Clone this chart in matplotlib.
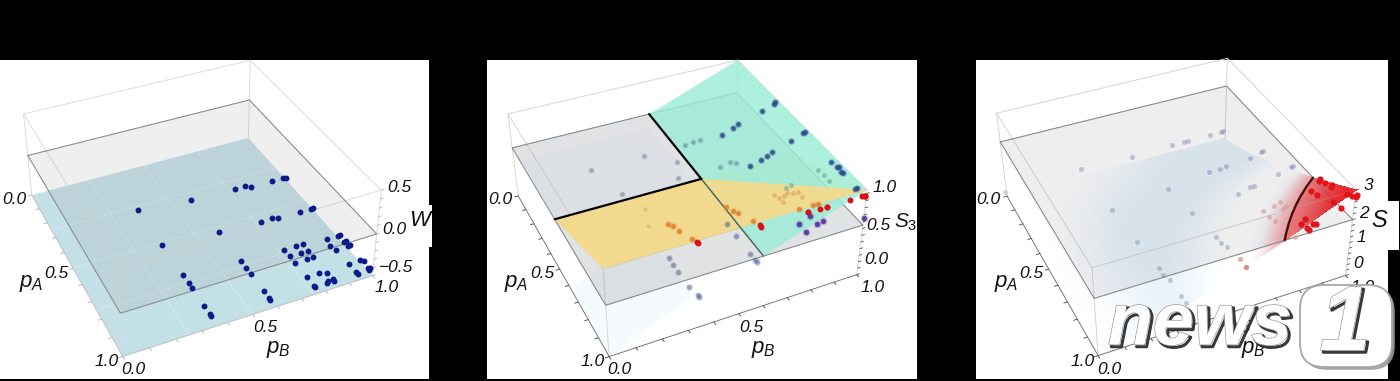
"""Three 3D box panels (W, S3, S over pA, pB), drawn with a fitted perspective camera."""
import numpy as np
import matplotlib
matplotlib.use("Agg")
import matplotlib.pyplot as plt
import matplotlib.patheffects as pe
from matplotlib.patches import Polygon, Rectangle, FancyBboxPatch

plt.rcParams["font.family"] = ["Liberation Sans", "DejaVu Sans"]
plt.rcParams["mathtext.fontset"] = "custom"
plt.rcParams["mathtext.it"] = "Liberation Sans:italic"
plt.rcParams["mathtext.rm"] = "Liberation Sans"

# panel 1: W
W_PLANE = -0.44
W_PA = [.30,.33,.54,.56,.34,.34,.35,.35,.35,.36,.57,.57,.58,.58,.58,.58,.73,.78,.81,.91,.96,.97,
        .75,.79,.83,.93,.97,.98,.76,.80,.84,.76,.76,.80,.80,.84,.84,.93,.93,.94,.98,.99,.98,.99,.98,.99,
        .77,.81,.84,.77,.77,.81,.81,.84,.84,.93,.98,.99,.93,.94,.98,.99,.98]
W_PB = [.35,.57,.35,.58,.76,.81,.83,.93,.98,.99,.76,.81,.83,.93,.98,.99,.35,.35,.35,.35,.35,.35,
        .58,.58,.58,.58,.58,.58,.76,.76,.76,.81,.84,.81,.84,.81,.84,.76,.81,.84,.76,.76,.82,.81,.84,.84,
        .94,.93,.94,.99,1.00,.99,1.00,.99,1.00,.94,.94,.94,.99,1.00,.99,.99,1.00]

# panel 2: S3, one list per point group
S3_BLUE = 0.9
S3_BLUE_PA = [.31,.32,.35,.39,.41,.43,.55,.55,.58,.63,.64,.66,.61,.76,.80,.80,.84,.83,.94,.94]
S3_BLUE_PB = [1.01,1.00,.93,.80,.77,.71,1.01,1.00,.93,.80,.77,.71,.83,1.00,1.00,1.01,1.00,1.00,1.00,.99]
S3_GREY = 0.5
S3_GREY_PA = [.27,.26,.26,.36,.46,.27,.27,.46,.46,.45,.46]
S3_GREY_PB = [.63,.67,.70,.55,.51,.45,.23,.28,.69,.74,.76]
S3_MID = 0.7
S3_TEAL_PA = [.71,.75,.79,.76,.75]
S3_TEAL_PB = [.98,.98,.98,.81,.84]
S3_TAN_PA = [.79,.80,.80,.83,.78,.80,.83,.80]
S3_TAN_PB = [.80,.82,.84,.84,.75,.76,.76,.78]
S3_ORANGE_PA = [.77,.80,.82,.88,.89,.89,.89,.77,.79,.82,.88]
S3_ORANGE_PB = [.56,.57,.58,.61,.79,.85,.87,.33,.34,.35,.37]
S3_RED_PA = [.91,.92,.92,.92,.92,.92,.92,.92,.90,.91]
S3_RED_PB = [.62,.62,.86,.89,.89,.81,.81,.99,.38,.38]
S3_PALE_PA = [.66,.75]
S3_PALE_PB = [.29,.26]
S3_TIP = 0.9
S3_TIP_PA = [.99,.99,.99]
S3_TIP_PB = [.99,1.00,1.00]
S3_PURPLE = 0.6
S3_PURPLE_PA = [.98,.96,.95,1.00,.93,.91]
S3_PURPLE_PB = [.77,.83,.86,1.00,.77,.83]
S3_LOW = 0.2
S3_LOW_PA = [.77,.81,.85,.94,.99,1.00,.76,.68,.87,.91,.92]
S3_LOW_PB = [.33,.33,.33,.33,.34,.34,.61,.61,.61,.61,.61]

# panel 3: S
S_BLUE = 1.6
S_BLUE_PA = [.23,.24,.23,.23,.23,.23,.23,.23,.44,.42,.42,.52,.49,.46,.46,.45,.63,.61,.61,.58,.56,.56]
S_BLUE_PB = [.25,.46,.64,.69,.71,.81,.86,.87,.88,.94,.95,.26,.50,.69,.74,.77,.73,.79,.81,.93,1.00,1.01]
S_LOW = 0.8
S_LOW_PA = [.78,.82,.86,.95,.99,.71,.75,.78,.61,.54]
S_LOW_PB = [.33,.33,.34,.34,.34,.60,.60,.61,.32,.58]
S_PINK_PA = [.86,.91,.91]
S_PINK_PB = [.62,.62,.62]
S_MID = 1.8
S_MID_PA = [.79,.83,.86,.78,.77,.81,.80,.97]
S_MID_PB = [.75,.75,.76,.80,.83,.82,.84,.78]
S_HIGH = 2.4
S_HIGH_PA = [1.00,.98,1.03,1.04,1.02,1.02,.85,.88,.81,.80,.83,.86,.85,.94,.98,.92,.94,.95,.94]
S_HIGH_PB = [.78,.81,.79,.79,.82,.83,.91,.92,.97,.98,.98,.99,1.00,.95,.96,1.02,1.03,1.04,1.05]
S_ZERO_PA = [-.03]
S_ZERO_PB = [0.0]


def fit_camera(off, top, mid, floor, tm):
    """Least squares camera from the box corners (crop coordinates, 3x)."""
    rows = []
    order = [(0, 0), (0, 1), (1, 1), (1, 0)]
    for q, t in ((floor, 0), (mid, tm), (top, 1)):
        for (a, b), (u, v) in zip(order, q):
            u, v = u / 3 + off[0], v / 3 + off[1]
            rows.append([a, b, t, 1, 0, 0, 0, 0, -u * a, -u * b, -u * t, -u])
            rows.append([0, 0, 0, 0, a, b, t, 1, -v * a, -v * b, -v * t, -v])
    return np.linalg.svd(np.array(rows))[2][-1].reshape(3, 4)


class Box:
    def __init__(self, ax, cam, zlim):
        self.ax, self.cam, self.zlim = ax, cam, zlim

    def xy(self, a, b, z):
        a, b, z = np.broadcast_arrays(np.asarray(a, float), np.asarray(b, float), np.asarray(z, float))
        t = (z - self.zlim[0]) / (self.zlim[1] - self.zlim[0])
        w = self.cam @ np.stack([a.ravel(), b.ravel(), t.ravel(), np.ones(a.size)])
        return (w[0] / w[2]).reshape(a.shape), (w[1] / w[2]).reshape(a.shape)

    def line(self, a, b, z, **kw):
        kw.setdefault("solid_capstyle", "round")
        x, y = self.xy(a, b, z)
        self.ax.plot(x, y, **kw)

    def poly(self, verts, **kw):
        v = np.array(verts, float)
        x, y = self.xy(v[:, 0], v[:, 1], v[:, 2])
        self.ax.add_patch(Polygon(np.c_[x, y], closed=True, lw=0, **kw))

    def dots(self, pa, pb, z, color, size=16, alpha=1.0, halo=0.0):
        x, y = self.xy(pa, pb, z)
        if halo:
            self.ax.scatter(x, y, s=size * 2.2, c=color, alpha=halo, lw=0, zorder=6)
        self.ax.scatter(x, y, s=size, c=color, alpha=alpha, lw=0, zorder=6)

    def frame(self, plane, top_col, plane_col, axis_col, tick_col, zstep):
        z0, z1 = self.zlim
        lo = {"lw": 0.7, "color": top_col}
        self.line([0, 0, 1, 1, 0], [0, 1, 1, 0, 0], z1, **lo)
        for a, b in ((0, 0), (0, 1), (1, 1), (1, 0)):
            self.line([a, a], [b, b], [z0, z1], **lo)
        self.line([0, 0, 1, 1, 0], [0, 1, 1, 0, 0], plane, lw=0.8, color=plane_col)
        self.line([0, 1, 1], [0, 0, 1], z0, lw=0.7, color=axis_col)
        for v in np.arange(0, 1.01, 0.1):
            self.line([v, v], [0, -0.014], z0, lw=0.7, color=tick_col)
            self.line([1, 1.014], [v, v], z0, lw=0.7, color=tick_col)
        for v in np.arange(z0, z1 + 1e-6, zstep):
            self.line([1, 1], [1, 1.012], v, lw=0.6, color=tick_col)


def labels(ax, pa_ticks, pb_ticks, z_ticks, zname, zpos, pa_pos, pb_pos, size=12.5, zsize=17):
    kw = dict(ha="center", va="center", style="italic", fontsize=size, color="#111111", zorder=9)
    for txt, (x, y) in list(pa_ticks) + list(pb_ticks) + list(z_ticks):
        ax.text(x, y, txt, **kw)
    ax.text(*zpos, zname, ha="center", va="center", fontsize=zsize, color="#111111", zorder=9)
    ax.text(*pa_pos, r"$p_A$", ha="center", va="center", fontsize=16, color="#111111", zorder=9)
    ax.text(*pb_pos, r"$p_B$", ha="center", va="center", fontsize=16, color="#111111", zorder=9)


def smooth(v, lo, hi):
    t = np.clip((v - lo) / (hi - lo), 0, 1)
    return t * t * (3 - 2 * t)


def panel_w(ax):
    cam = fit_camera((0, 50), [(68, 195), (750, 30), (1145, 420), (355, 645)],
                     [(85, 320), (750, 152), (1130, 550), (360, 795)],
                     [(95, 430), (745, 262), (1115, 680), (370, 920)], 0.5)
    box = Box(ax, cam, (-0.5, 0.5))
    box.poly([(0, 0, -.5), (0, 1, -.5), (1, 1, -.5), (1, 0, -.5)], color="#c4e0e7", zorder=2)
    for v in (0.25, 0.5, 0.75):
        box.line([v, v], [0, 1], -.5, lw=0.6, color="#d6eaee", zorder=2)
        box.line([0, 1], [v, v], -.5, lw=0.6, color="#d6eaee", zorder=2)
    box.poly([(0, 0, 0), (0, 1, 0), (1, 1, 0), (1, 0, 0)], color="#6e6a66", alpha=0.10, zorder=3)
    box.frame(0.0, "#dcdcdc", "#8f8f8f", "#c0c0c0", "#b5b5b5", 0.1)
    box.dots(W_PA, W_PB, W_PLANE, "#0d1a8a", size=18)
    labels(ax, [("0.0", (14, 200)), ("0.5", (56, 273)), ("1.0", (107, 361))],
           [("0.0", (133, 369)), ("0.5", (265, 327)), ("1.0", (387, 287))],
           [("0.5", (399, 188)), ("0.0", (394, 229)), ("\u22120.5", (396, 267))],
           "$W$", (421, 220), (31, 283), (278, 349), zsize=16)


def panel_s3(ax):
    cam = fit_camera((480, 50), [(85, 190), (770, 30), (1165, 420), (372, 660)],
                     [(95, 295), (770, 130), (1145, 520), (378, 765)],
                     [(115, 437), (770, 265), (1130, 678), (385, 918)], 0.6)
    box = Box(ax, cam, (-0.25, 1.0))
    box.poly([(.62, 0, -.25), (1, 0, -.25), (1, .32, .25), (.62, .3, .2)], color="#e4f6fb", alpha=0.35, zorder=2)
    box.poly([(.5, 0, .5), (1, 0, 1), (1, 1, 1), (.5, 1, .5)], color="#f6dd8c", alpha=0.35, zorder=2)
    box.poly([(0, 0, .5), (0, 1, .5), (1, 1, .5), (1, 0, .5)], color="#8a8f90", alpha=0.25, zorder=3)
    box.poly([(.1, 0, .5), (.1, .55, .5), (.5, .55, .5), (.5, 0, .5)], color="#c6dcec", alpha=0.18, zorder=3)
    box.poly([(0, .59, .5), (0, 1, 1), (1, 1, 1), (1, .59, .5)], color="#9cedd7", alpha=0.82, zorder=4)
    box.poly([(.5, 0, .5), (.5, .59, .5), (1, 1, 1), (1, 0, 1)], color="#f5da8a", alpha=0.92, zorder=4)
    box.frame(0.5, "#d6d6d6", "#858a8a", "#777777", "#555555", 0.1)
    box.line([.5, 1], [.59, .59], .5, lw=1.1, color="#4b6a62", zorder=5)
    box.line([0, .5], [.59, .59], .5, lw=1.6, color="black", zorder=5)
    box.line([.5, .5], [0, .59], .5, lw=1.6, color="black", zorder=5)

    box.dots(S3_BLUE_PA, S3_BLUE_PB, S3_BLUE, "#2c4a8c", size=12, alpha=0.85, halo=0.25)
    box.dots(S3_GREY_PA, S3_GREY_PB, S3_GREY, "#56688a", size=10, alpha=0.4, halo=0.12)
    box.dots(S3_TEAL_PA, S3_TEAL_PB, S3_MID, "#5f9c9e", size=12, alpha=0.55)
    box.dots(S3_TAN_PA, S3_TAN_PB, S3_MID, "#e0a960", size=12, alpha=0.7)
    box.dots(S3_ORANGE_PA, S3_ORANGE_PB, S3_MID, "#e37f2a", size=13, alpha=0.85, halo=0.2)
    box.dots(S3_RED_PA, S3_RED_PB, S3_MID, "#e01010", size=18)
    box.dots(S3_PALE_PA, S3_PALE_PB, S3_MID, "#c9b27a", size=10, alpha=0.55)
    box.dots(S3_TIP_PA, S3_TIP_PB, S3_TIP, "#e01010", size=20)
    box.dots(S3_PURPLE_PA, S3_PURPLE_PB, S3_PURPLE, "#55309e", size=15, alpha=0.9, halo=0.2)
    box.dots(S3_LOW_PA, S3_LOW_PB, S3_LOW, "#5b6d96", size=12, alpha=0.55, halo=0.2)
    labels(ax, [("0.0", (500, 200)), ("0.5", (542, 273)), ("1.0", (593, 361))],
           [("0.0", (619, 369)), ("0.5", (751, 327)), ("1.0", (873, 287))],
           [("1.0", (885, 188)), ("0.5", (878, 225)), ("0.0", (876, 260))],
           "$S_3$", (906, 222), (516, 283), (763, 349), zsize=15)


def raster(ax, x, y, rgba, zorder):
    """Write the sheet's cells into an image, so the alpha never stacks up."""
    x0, x1, y0, y1 = 976, 1388, 60, 379
    img = np.zeros((y1 - y0, x1 - x0, 4))
    ix = np.clip((x - x0).astype(int), 0, x1 - x0 - 1)
    iy = np.clip((y - y0).astype(int), 0, y1 - y0 - 1)
    img[iy, ix] = rgba
    ax.imshow(img, extent=(x0, x1, y1, y0), aspect="auto", interpolation="bilinear", zorder=zorder)


def panel_s(ax):
    cam = fit_camera((970, 50), [(80, 195), (770, 28), (1165, 420), (368, 655)],
                     [(88, 272), (768, 105), (1145, 505), (372, 740)],
                     [(112, 437), (770, 265), (1122, 680), (385, 920)], 2 / 3)
    box = Box(ax, cam, (0.0, 3.0))
    grid = np.linspace(0, 1, 1500)
    pa, pb = np.meshgrid(grid, grid, indexing="ij")
    surf = 3 * (pa * pb) ** 1.234
    x, y = box.xy(pa, pb, surf)

    blue = smooth(pa + pb, 0.25, 0.85) * smooth(pb, 0.0, 0.35) * (1 - smooth(surf, 0.55, 1.25))
    red = smooth(surf, 1.45, 2.0)
    rgba = np.zeros(surf.shape + (4,))
    rgba[..., :3] = np.array([0.78, 0.88, 0.95]) * (1 - red[..., None]) + np.array([0.9, 0.13, 0.15]) * red[..., None]
    rgba[..., 3] = np.maximum(blue * 0.42, red * (0.36 + 0.5 * smooth(surf, 2.0, 3.0)))
    raster(ax, x, y, rgba, 2)
    box.poly([(0, 0, 2), (0, 1, 2), (1, 1, 2), (1, 0, 2)], color="#5a5c6a", alpha=0.10, zorder=3)

    # part of the sheet above the z=2 plane comes back on top of it
    upper = rgba.copy()
    upper[surf < 2.0, 3] = 0
    raster(ax, x, y, upper, 4)

    box.frame(2.0, "#d4d4d4", "#8c8c90", "#777777", "#555555", 0.2)
    arc_b = np.array([.72, .74, .78, .82, .86, .9, .95, 1.0])
    box.line(0.72 / arc_b, arc_b, 2.0, lw=1.7, color="#4d0c0c", zorder=5)

    box.dots(S_BLUE_PA, S_BLUE_PB, S_BLUE, "#6d6fa8", size=13, alpha=0.38)
    box.dots(S_LOW_PA, S_LOW_PB, S_LOW, "#6a7f9a", size=13, alpha=0.38)
    box.dots(S_ZERO_PA, S_ZERO_PB, 0.0, "#8b8bbb", size=13, alpha=0.35)
    box.dots(S_PINK_PA, S_PINK_PB, S_LOW, "#d27a70", size=14, alpha=0.6)
    box.dots(S_MID_PA, S_MID_PB, S_MID, "#d98a84", size=13, alpha=0.5)
    box.dots(S_HIGH_PA, S_HIGH_PB, S_HIGH, "#e1141c", size=20)
    labels(ax, [("0.0", (988, 200)), ("0.5", (1031, 273)), ("1.0", (1083, 362))],
           [("0.0", (1109, 370)), ("0.5", (1238, 327)), ("1.0", (1363, 287))],
           [("3", (1368, 185)), ("2", (1364, 213)), ("1", (1361, 238)), ("0", (1358, 263))],
           "$S$", (1380, 221), (1006, 283), (1253, 350), zsize=17)


def watermark(ax):
    fx = [pe.SimpleLineShadow(offset=(1.6, -1.6), shadow_color="#2e2e2e", alpha=0.95, linewidth=2.2),
          pe.Stroke(linewidth=1.0, foreground="#9a9a9a"), pe.Normal()]
    box_fx = [pe.SimplePatchShadow(offset=(2, -2), shadow_rgbFace="#9a9a9a", alpha=0.9), pe.Normal()]
    ax.add_patch(FancyBboxPatch((1312, 297), 68, 58, boxstyle="round,pad=12,rounding_size=24",
                                fc="white", ec="#a8a8a8", lw=1.3, path_effects=box_fx, zorder=19))
    ax.text(1200, 325, "news", ha="center", va="center", style="italic", weight="bold",
            fontsize=53, color="white", path_effects=fx, zorder=20)
    ax.text(1345, 326, "1", ha="center", va="center", style="italic", weight="bold",
            fontsize=66, color="white", path_effects=fx, zorder=20)


def main():
    fig = plt.figure(figsize=(14, 3.81), dpi=100)
    fig.patch.set_facecolor("black")
    ax = fig.add_axes([0, 0, 1, 1])
    for x0, x1, y0, y1 in ((0, 429, 60, 379), (487, 917, 60, 379), (976, 1388, 60, 379),
                           (429, 432, 205, 247), (1388, 1399, 201, 250)):
        ax.add_patch(Rectangle((x0, y0), x1 - x0, y1 - y0, fc="white", ec="none", zorder=1))
    panel_w(ax)
    panel_s3(ax)
    panel_s(ax)
    watermark(ax)
    ax.set_xlim(0, 1400)
    ax.set_ylim(381, 0)
    ax.axis("off")
    fig.savefig("out.png", dpi=100, facecolor="black")


if __name__ == "__main__":
    main()
